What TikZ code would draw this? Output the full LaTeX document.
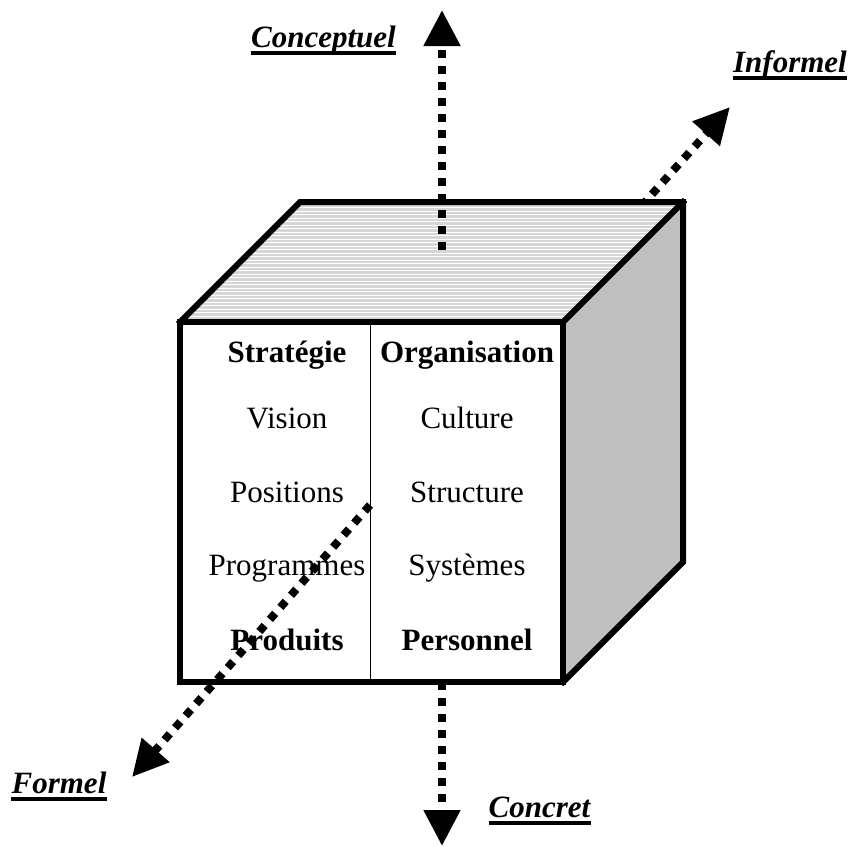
\documentclass[tikz,border=0pt]{standalone}
\usepackage{fontspec}
\setmainfont{Liberation Serif}
\usetikzlibrary{arrows.meta}
\definecolor{topgray}{HTML}{D6D6D6}
\definecolor{sidegray}{HTML}{C0C0C0}
\begin{document}
\begin{tikzpicture}[x=1pt,y=-1pt,
  edge/.style={line width=6pt, line join=miter, line cap=rect},
  txt/.style={inner sep=0pt, anchor=base, font=\fontsize{31}{31}\selectfont},
  hd/.style={inner sep=0pt, anchor=base, font=\fontsize{31}{31}\selectfont\bfseries},
  lbl/.style={inner sep=0pt, anchor=base, font=\fontsize{31}{31}\selectfont\bfseries\itshape},
  uline/.style={line width=4pt},
  axis/.style={line width=8pt, dash pattern=on 8pt off 8pt, -{Triangle[length=36pt,width=35pt]}},
]
\useasboundingbox (0,0) rectangle (853,846);
% cube corners
\coordinate (A) at (180,322);
\coordinate (B) at (563,322);
\coordinate (C) at (563,682);
\coordinate (D) at (180,682);
\coordinate (E) at (300,202);
\coordinate (F) at (683,202);
\coordinate (G) at (683,562);
\coordinate (Dt) at (370,322);
\coordinate (Db) at (370,682);
% axis end points
\coordinate (upS) at (442,250);
\coordinate (upT) at (442,10);
\coordinate (dnS) at (442,682);
\coordinate (dnT) at (442,846);
\coordinate (inS) at (620,230);
\coordinate (inT) at (730,107);
\coordinate (foS) at (370,505);
\coordinate (foT) at (132,777);
% hidden part of diagonal axis (behind)
\draw[axis] (inS) -- (inT);
% top face
\fill[topgray] (A) -- (E) -- (F) -- (B) -- cycle;
\begin{scope}
  \clip (A) -- (E) -- (F) -- (B) -- cycle;
  \foreach \yy in {204,207.5,...,322} \draw[white, line width=0.9pt] (170,\yy) -- (700,\yy);
\end{scope}
% right face
\fill[sidegray] (B) -- (F) -- (G) -- (C) -- cycle;
% front face
\fill[white] (A) rectangle (C);
\draw[line width=0.8pt] (Dt) -- (Db);
\draw[edge] (A) -- (E) -- (F) -- (G) -- (C);
\draw[edge] (B) -- (F);
\draw[edge] (A) -- (B) -- (C) -- (D) -- cycle;
% texts
\node[hd]  (s1) at (287,362) {Stratégie};
\node[txt] (s2) at (287,428) {Vision};
\node[txt] (s3) at (287,502) {Positions};
\node[txt] (s4) at (287,575) {Programmes};
\node[hd]  (s5) at (287,650) {Produits};
\node[hd]  (o1) at (467,362) {Organisation};
\node[txt] (o2) at (467,428) {Culture};
\node[txt] (o3) at (467,502) {Structure};
\node[txt] (o4) at (467,575) {Systèmes};
\node[hd]  (o5) at (467,650) {Personnel};
% visible axes
\draw[axis] (upS) -- (upT);
\draw[axis] (dnS) -- (dnT);
\draw[axis] (foS) -- (foT);
% labels
\node[lbl] (lc) at (323.5,47) {Conceptuel};
\node[lbl] (li) at (790,72) {Informel};
\node[lbl] (lf) at (59,793) {Formel};
\node[lbl] (lk) at (539.5,817) {Concret};
\foreach \n in {lc,li,lf,lk}
  \draw[uline] ([yshift=-6pt]\n.base west) -- ([yshift=-6pt]\n.base east);
\end{tikzpicture}
\end{document}
